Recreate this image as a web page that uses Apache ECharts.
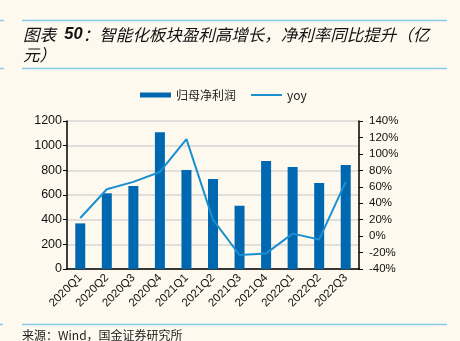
<!DOCTYPE html>
<html><head><meta charset="utf-8">
<script src="https://cdn.jsdelivr.net/npm/echarts@6/dist/echarts.min.js"></script>
<style>html,body{margin:0;padding:0;background:#FDF9EF;}#c{width:460px;height:341px;}</style>
</head><body><div id="c"></div>
<script>
var categories = ['2020Q1','2020Q2','2020Q3','2020Q4','2021Q1','2021Q2','2021Q3','2021Q4','2022Q1','2022Q2','2022Q3'];
var profit = [370, 614, 673, 1108, 803, 730, 513, 876, 827, 697, 843];
var yoy = [22, 57, 66, 78, 118, 20, -23, -21, 3, -4, 66];
var leftTicks = [0, 1200, 200];
var rightTicks = [-40, 140, 20];

var chart = echarts.init(document.getElementById('c'), null, {renderer:'canvas'});
var headerBlue = '#86CBEA';
var option = {
  backgroundColor: '#FDF9EF',
  animation: false,
  textStyle: {fontFamily: 'Liberation Sans, Arial, sans-serif'},
  graphic: [
    {type:'line', shape:{x1:0,y1:20.5,x2:4,y2:20.5}, style:{stroke:headerBlue, lineWidth:1.5}},
    {type:'line', shape:{x1:22,y1:20.5,x2:447,y2:20.5}, style:{stroke:headerBlue, lineWidth:1.5}},
    {type:'line', shape:{x1:0,y1:68.5,x2:4,y2:68.5}, style:{stroke:headerBlue, lineWidth:1.5}},
    {type:'line', shape:{x1:22,y1:68.5,x2:447,y2:68.5}, style:{stroke:headerBlue, lineWidth:1.5}},
    {type:'text', left:23, top:26, style:{
      text:'{a|图表 }{b| 50}{a|：智能化板块盈利高增长，净利率同比提升（亿}',
      rich:{
        a:{fontFamily:'Noto Sans CJK SC', fontStyle:'italic', fontSize:16.5, fill:'#111'},
        b:{fontFamily:'Liberation Sans', fontStyle:'italic', fontWeight:'bold', fontSize:16.5, fill:'#111'}
      }}},
    {type:'text', left:23, top:46, style:{text:'元）', fontFamily:'Noto Sans CJK SC', fontStyle:'italic', fontSize:16.5, fill:'#111'}},
    {type:'line', shape:{x1:0,y1:324.5,x2:3,y2:324.5}, style:{stroke:headerBlue, lineWidth:1.5}},
    {type:'line', shape:{x1:22,y1:324.5,x2:447,y2:324.5}, style:{stroke:headerBlue, lineWidth:1.5}},
    {type:'text', left:22, top:329, style:{text:'来源：Wind，国金证券研究所', fontFamily:'Noto Sans CJK SC', fontSize:12, fill:'#222'}}
  ],
  legend: {
    left: 135, top: 84, itemWidth: 31, itemHeight: 5, itemGap: 14,
    textStyle: {fontSize: 12, color: '#222', fontFamily: 'Noto Sans CJK SC'},
    data: [{name:'归母净利润', icon:'rect'}, {name:'yoy', itemStyle:{opacity:0}}]
  },
  grid: {left: 67, right: 101, top: 121, bottom: 72},
  xAxis: {
    type: 'category', data: categories,
    axisLine: {lineStyle: {color: '#000', width: 1.5}},
    axisTick: {length: 4, lineStyle: {color: '#000'}},
    axisLabel: {rotate: 45, fontSize: 11.5, color: '#111', margin: 7, interval: 0}
  },
  yAxis: [
    {type:'value', min: leftTicks[0], max: leftTicks[1], interval: leftTicks[2],
     axisLine:{show:true, lineStyle:{color:'#000', width:1.5}},
     axisTick:{show:true, length:4, lineStyle:{color:'#000'}},
     axisLabel:{fontSize:12.5, color:'#111', margin:5, formatter: function(v){return String(v);}},
     splitLine:{lineStyle:{color:'#D6D6D6', width:1.5}}},
    {type:'value', min: rightTicks[0], max: rightTicks[1], interval: rightTicks[2],
     axisLine:{show:true, lineStyle:{color:'#000', width:1.5}},
     axisTick:{show:true, length:4, lineStyle:{color:'#000'}},
     axisLabel:{fontSize:11.5, color:'#111', margin:10, formatter:'{value}%'},
     splitLine:{show:false}}
  ],
  series: [
    {name:'归母净利润', type:'bar', data: profit, barWidth: 10, itemStyle:{color:'#0068B1'}},
    {name:'yoy', type:'line', yAxisIndex:1, data: yoy, symbol:'none', lineStyle:{color:'#1A90D0', width:2}, itemStyle:{color:'#1A90D0'}}
  ]
};
chart.setOption(option);
</script></body></html>
